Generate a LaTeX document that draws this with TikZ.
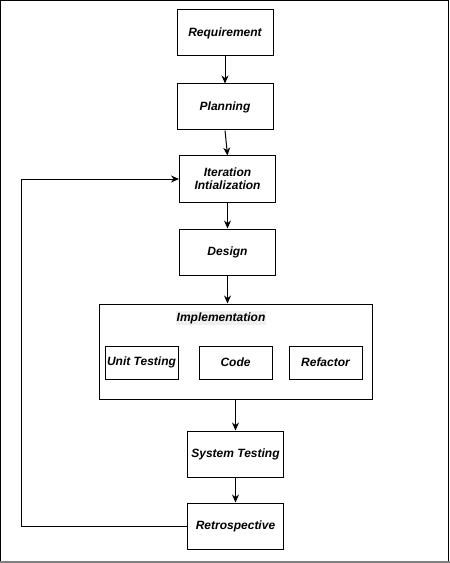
\documentclass[tikz,border=0pt]{standalone}
\usepackage{fontspec}
\setmainfont{Liberation Sans}
\usetikzlibrary{arrows.meta}
\newcommand{\lbl}{\fontsize{12bp}{13bp}\selectfont\bfseries\itshape}

\begin{document}
\begin{tikzpicture}[x=1bp,y=-1bp,
    stage/.style={draw,line width=1bp,minimum width=96bp,minimum height=46bp,inner sep=0pt,align=center,font=\lbl},
    task/.style={draw,line width=1bp,minimum width=73bp,minimum height=33bp,inner sep=0pt,font=\lbl},
    arr/.style={line width=1bp,-{Stealth[length=8bp,width=7bp]}}]
    \useasboundingbox (0,0) rectangle (450,563);
    \draw[line width=1bp] (0.5,561) -- (0.5,0.5) -- (448.5,0.5) -- (448.5,561);
    \draw[line width=2bp,gray] (0,561.5) -- (450,561.5);
    % stages
    \node[stage] (req)   at (225,33)    {Requirement};
    \node[stage] (plan)  at (225,107)   {Planning};
    \node[stage] (iter)  at (227.5,179) {Iteration\\Intialization};
    \node[stage] (des)   at (227.5,252) {Design};
    \node[draw,line width=1bp,minimum width=273bp,minimum height=95bp] (impl) at (235.5,351.5) {};
    \node[fill=gray!12,inner sep=1bp,font=\lbl] (impllbl) at (221,318) {Implementation};
    \node[task] (unit)   at (141.5,362.5) {Unit Testing};
    \node[task] (code)   at (235.5,362.5) {Code};
    \node[task] (refac)  at (325.5,362.5) {Refactor};
    \node[stage] (sys)   at (235.5,454) {System Testing};
    \node[stage] (retro) at (235.5,526) {Retrospective};
    \coordinate (back) at (21,526);
    % arrows
    \draw[arr] (req) -- (plan);
    \draw[arr] (plan.south) -- (iter.north);
    \draw[arr] (iter) -- (des);
    \draw[arr] (des.south) -- (des.south |- impl.north);
    \draw[arr] (impl.south) -- (sys.north);
    \draw[arr] (sys) -- (retro);
    \draw[arr] (retro.west) -- (back) |- (iter.west);
\end{tikzpicture}
\end{document}
